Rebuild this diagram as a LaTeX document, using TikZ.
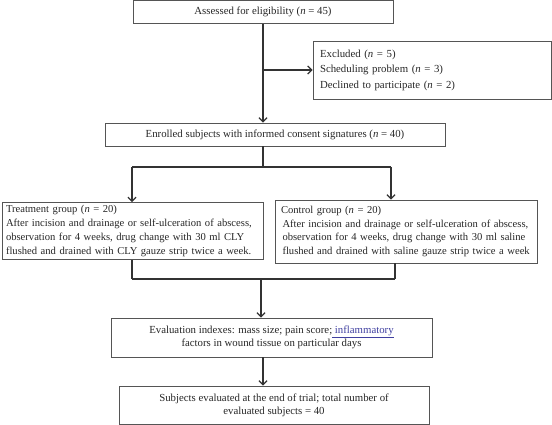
\documentclass[tikz,border=0pt]{standalone}
\usepackage{fontspec}
\setmainfont{Liberation Serif}
\usetikzlibrary{arrows.meta}
\definecolor{boxline}{HTML}{555555}
\definecolor{arrline}{HTML}{333333}
\definecolor{linkblue}{HTML}{4040A0}
\begin{document}
\begin{tikzpicture}[x=1pt,y=1pt,
  box/.style={draw=boxline, line width=0.8pt, inner sep=0pt, font=\fontsize{10.8}{13}\selectfont, text=black!85},
  cbox/.style={box, align=center},
  lbox/.style={box, align=left},
  gbox/.style={lbox, font=\fontsize{10.6}{13.7}\selectfont},
  conn/.style={draw=arrline, line width=1.3pt},
  arr/.style={conn, -{Straight Barb[length=4pt,width=8pt,line width=1.3pt]}}
]
\useasboundingbox (0,0) rectangle (552,-425);
\node[cbox, minimum width=260, minimum height=23.5] (b1) at (263,-11.75) {Assessed for eligibility (\textit{n} = 45)};
\node[lbox, minimum width=238, minimum height=58, text width=224, font=\fontsize{10.8}{15.5}\selectfont] (excl) at (432,-70)
  {Excluded (\textit{n} = 5)\\Scheduling problem (\textit{n} = 3)\\Declined to participate (\textit{n} = 2)};
\node[cbox, minimum width=340, minimum height=23] (b2) at (275,-134.5) {Enrolled subjects with informed consent signatures (\textit{n} = 40)};
\node[gbox, minimum width=261, minimum height=57, text width=253] (treat) at (132.5,-231)
  {Treatment group (\textit{n} = 20)\\After incision and drainage or self-ulceration of abscess,\\observation for 4 weeks, drug change with 30 ml CLY\\flushed and drained with CLY gauze strip twice a week.};
\node[gbox, minimum width=262, minimum height=63, text width=250] (ctrl) at (406,-231.5)
  {Control group (\textit{n} = 20)\\\hspace*{1.5pt}After incision and drainage or self-ulceration of abscess,\\\hspace*{1.5pt}observation for 4 weeks, drug change with 30 ml saline\\\hspace*{1.5pt}flushed and drained with saline gauze strip twice a week};
\node[cbox, minimum width=321, minimum height=39, font=\fontsize{10.8}{12.7}\selectfont] (eval) at (271.5,-337.5)
  {Evaluation indexes: mass size; pain score;{\color{linkblue}\underline{ inflammatory}}\\factors in wound tissue on particular days};
\node[cbox, minimum width=310, minimum height=38] (final) at (274,-405)
  {Subjects evaluated at the end of trial; total number of\\evaluated subjects = 40};

\coordinate (br) at (263,-70);
\coordinate (s1) at (263,-167);
\coordinate (sl) at (132,-167);
\coordinate (sr) at (391,-167);
\coordinate (jl) at (132,-279);
\coordinate (jr) at (395,-279);
\coordinate (jm) at (261,-279);

\draw[arr] (b1.south) -- (b1.south |- b2.north);
\draw[arr] (br) -- (excl.west |- br);
\draw[conn] (b2.south -| s1) -- (s1);
\draw[conn] (sl) -- (sr);
\draw[arr] (sl) -- (sl |- treat.north);
\draw[arr] (sr) -- (sr |- ctrl.north);
\draw[conn] (treat.south -| jl) -- (jl);
\draw[conn] (ctrl.south -| jr) -- (jr);
\draw[conn] (jl) -- (jr);
\draw[arr] (jm) -- (jm |- eval.north);
\draw[arr] (eval.south -| b1.south) -- (b1.south |- final.north);
\end{tikzpicture}
\end{document}
